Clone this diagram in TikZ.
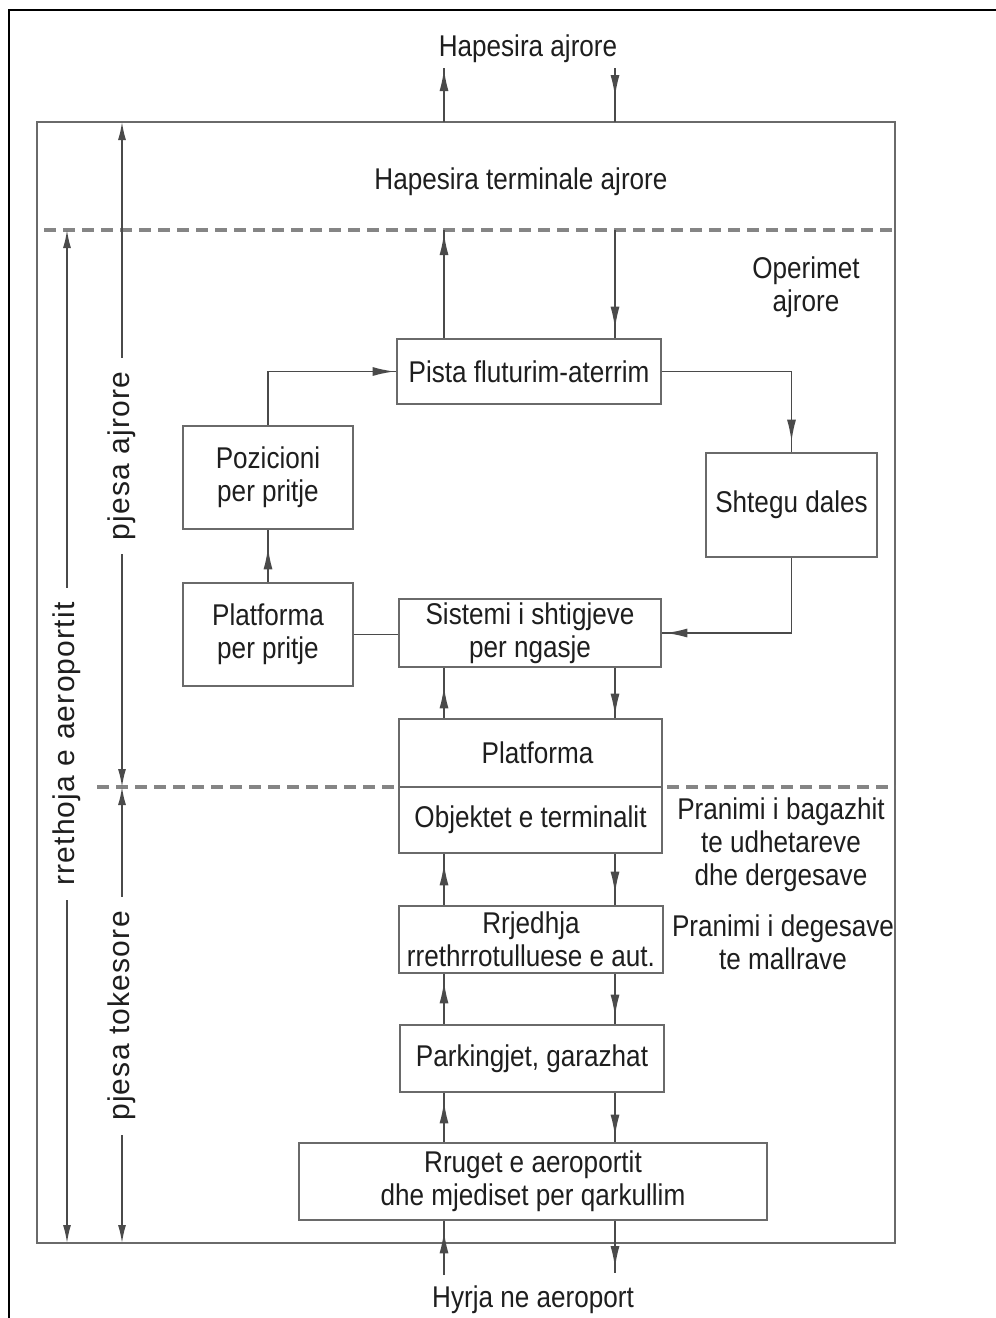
\documentclass[tikz,border=0pt]{standalone}
\usepackage{fontspec}
\setmainfont[FakeStretch=0.87]{Liberation Sans}
\newfontfamily\dimfont[LetterSpace=4]{Liberation Sans}
\usetikzlibrary{arrows.meta,decorations.markings}
\definecolor{boxgray}{HTML}{6A6A6A}
\definecolor{linegray}{HTML}{4A4A4A}
\definecolor{dashgray}{HTML}{858585}
\definecolor{txt}{HTML}{1E1E1E}
\begin{document}
\begin{tikzpicture}[x=1pt,y=-1pt,
  every node/.style={text=txt, font=\fontsize{30}{33}\selectfont},
  box/.style={draw=boxgray, line width=2.6pt, fill=white, inner sep=0pt, align=center},
  conn/.style={draw=linegray, line width=1.8pt},
  tipat/.style={postaction={decorate}, decoration={markings, mark=at position #1 with {\arrow{Latex[length=22pt,width=9pt]}}}},
  dimline/.style={draw=linegray, line width=1.5pt, {Latex[length=18pt,width=8pt]}-{Latex[length=18pt,width=8pt]}},
  sepline/.style={draw=dashgray, line width=3.5pt, dash pattern=on 12pt off 7pt},
  framebox/.style={draw=boxgray, line width=2.8pt},
  dimlabel/.style={rotate=90, fill=white, font=\dimfont\fontsize{30}{33}\selectfont, inner xsep=14pt, inner ysep=2pt},
  note/.style={align=center}
]
\useasboundingbox (0,0) rectangle (996,1318);
% page frame
\draw[black, line width=2pt] (9,1318) -- (9,10) -- (996,10);

% reference coordinates
\coordinate (ftop) at (0,122);
\coordinate (fbot) at (0,1243);
\coordinate (dash1) at (0,230);
\coordinate (dash2) at (0,787);
\coordinate (cL) at (444,0);
\coordinate (cR) at (615,0);
\coordinate (dA) at (122,0);
\coordinate (dB) at (67,0);
\coordinate (skyL) at (444,68);
\coordinate (skyR) at (615,68);
\coordinate (gndL) at (444,1275);
\coordinate (gndR) at (615,1273);

% main frame and separators
\draw[framebox] (37,122) rectangle (895,1243);
\draw[sepline] (44,230) -- (895,230);
\draw[sepline] (97,787) -- (895,787);

% boxes
\node[box, minimum width=264pt, minimum height=65pt] (pista) at (529,371.5) {Pista fluturim-aterrim};
\node[box, minimum width=171pt, minimum height=104pt] (shtegu) at (791.5,505) {Shtegu dales};
\node[box, minimum width=170pt, minimum height=103pt] (poz) at (268,477.5) {Pozicioni\\per pritje};
\node[box, minimum width=170pt, minimum height=103pt] (platp) at (268,634.5) {Platforma\\per pritje};
\node[box, minimum width=262pt, minimum height=68pt] (sist) at (530,633) {Sistemi i shtigjeve\\per ngasje};
\node[box, minimum width=263pt, minimum height=68pt] (platA) at (530.5,753) {\hspace*{14pt}Platforma};
\node[box, minimum width=263pt, minimum height=66pt] (platB) at (530.5,820) {Objektet e terminalit};
\node[box, minimum width=264pt, minimum height=67pt] (rrj) at (531,939.5) {Rrjedhja\\rrethrrotulluese e aut.};
\node[box, minimum width=264pt, minimum height=67pt] (park) at (532,1058.5) {Parkingjet, garazhat};
\node[box, minimum width=468pt, minimum height=77pt] (rrug) at (533,1181.5) {Rruget e aeroportit\\dhe mjediset per qarkullim};

% free labels
\node (sky) at (528,49) {Hapesira ajrore};
\node (term) at (521,182) {Hapesira terminale ajrore};
\node (gnd) at (533,1300) {Hyrja ne aeroport};
\node[note] (oper) at (806,287) {Operimet\\ajrore};
\node[note] (bag) at (781,845) {Pranimi i bagazhit\\te udhetareve\\dhe dergesave};
\node[note] (mall) at (783,942) {Pranimi i degesave\\te mallrave};

% connectors
\draw[conn, tipat=-1pt] (ftop -| cL) -- (skyL);
\draw[conn, tipat=-25pt] (skyR) -- (ftop -| cR);
\draw[conn, tipat=-3pt] (pista.north -| cL) -- (dash1 -| cL);
\draw[conn, tipat=-9pt] (dash1 -| cR) -- (pista.north -| cR);
\draw[conn, tipat=-1pt] (poz.north) |- (pista.west);
\draw[conn, tipat=-10pt] (pista.east) -| (shtegu.north);
\draw[conn, tipat=-17pt] (platp.north) -- (poz.south);
\draw[conn] (platp.east) -- (platp.east -| sist.west);
\draw[conn, tipat=-3pt] (shtegu.south) |- (sist.east);
\draw[conn, tipat=-18pt] (platA.north -| cL) -- (sist.south -| cL);
\draw[conn, tipat=-2pt] (sist.south -| cR) -- (platA.north -| cR);
\draw[conn, tipat=-9pt] (rrj.north -| cL) -- (platB.south -| cL);
\draw[conn, tipat=-11pt] (platB.south -| cR) -- (rrj.north -| cR);
\draw[conn, tipat=-7pt] (park.north -| cL) -- (rrj.south -| cL);
\draw[conn, tipat=-7pt] (rrj.south -| cR) -- (park.north -| cR);
\draw[conn, tipat=-8pt] (rrug.north -| cL) -- (park.south -| cL);
\draw[conn, tipat=-5pt] (park.south -| cR) -- (rrug.north -| cR);
\draw[conn, tipat=-10pt] (gndL) -- (rrug.south -| gndL);
\draw[conn, tipat=-5pt] (rrug.south -| gndR) -- (gndR);

% dimension lines
\draw[dimline] (ftop -| dA) -- (dash2 -| dA);
\draw[dimline] (dash2 -| dA) -- (fbot -| dA);
\draw[dimline] (dash1 -| dB) -- (fbot -| dB);
\node[dimlabel] (lajr) at (122,456) {pjesa ajrore};
\node[dimlabel] (ltok) at (122,1016) {pjesa tokesore};
\node[dimlabel] (lrr) at (67,744) {rrethoja e aeroportit};
\end{tikzpicture}
\end{document}
